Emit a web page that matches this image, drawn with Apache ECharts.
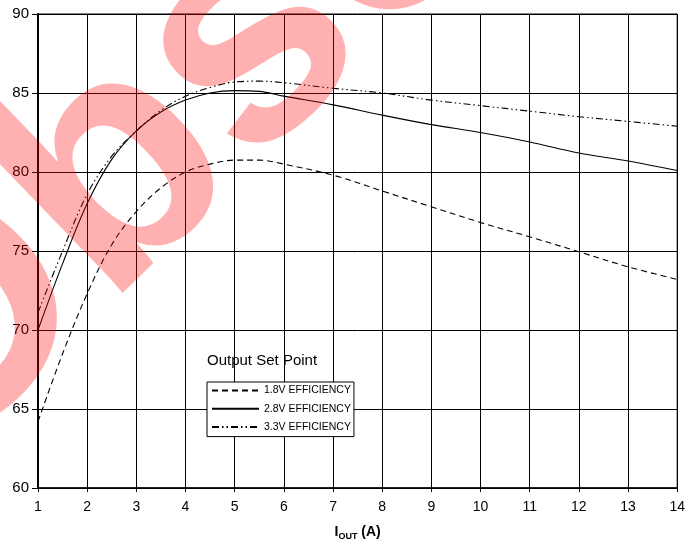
<!DOCTYPE html>
<html>
<head>
<meta charset="utf-8">
<script src="https://cdn.jsdelivr.net/npm/echarts@6/dist/echarts.min.js"></script>
<style>
html,body{margin:0;padding:0;background:#fff;}
#c{width:688px;height:547px;}
</style>
</head>
<body>
<div id="c"></div>
<script>
const iout = [1, 1.5, 2, 2.5, 3, 3.5, 4, 4.5, 5, 5.5, 6, 7, 8, 9, 10, 11, 12, 13, 14];
const eff18 = [64.2, 68.5, 72.3, 75.4, 77.5, 79.0, 80.0, 80.5, 80.75, 80.75, 80.5, 79.8, 78.8, 77.8, 76.8, 75.9, 74.95, 74.0, 73.2];
const eff28 = [70.0, 74.2, 78.0, 80.8, 82.6, 83.8, 84.55, 85.0, 85.15, 85.1, 84.8, 84.25, 83.6, 83.0, 82.5, 81.9, 81.2, 80.7, 80.1];
const eff33 = [71.1, 75.0, 78.6, 81.0, 82.6, 83.9, 84.8, 85.35, 85.7, 85.75, 85.65, 85.3, 85.0, 84.55, 84.2, 83.85, 83.5, 83.2, 82.9];
const seriesNames = ['1.8V EFFICIENCY', '2.8V EFFICIENCY', '3.3V EFFICIENCY'];
const legendTitle = 'Output Set Point';
const watermark = 'Obsolete';

const pair = (ys) => iout.map((x, i) => [x, ys[i]]);
const dashes = [[6, 4], 'solid', [7, 3, 1.5, 3, 1.5, 3]];
const allData = [eff18, eff28, eff33];

const chart = echarts.init(document.getElementById('c'));
chart.setOption({
  animation: false,
  backgroundColor: '#fff',
  grid: { left: 38, right: 4, top: 14, bottom: 59, show: true, borderColor: '#000', borderWidth: 1, backgroundColor: 'transparent' },
  xAxis: {
    type: 'value', min: 1, max: 14, interval: 1,
    axisLine: { lineStyle: { color: '#000', width: 1.5 } },
    axisTick: { show: true, length: 4, lineStyle: { color: '#000' } },
    axisLabel: { color: '#000', fontSize: 14, margin: 12, fontFamily: '"Liberation Sans Narrow", "Liberation Sans", sans-serif' },
    splitLine: { show: true, lineStyle: { color: '#000', width: 1 } },
    name: '{a|I}{b|OUT}{a| (A)}',
    nameLocation: 'middle', nameGap: 36,
    nameTextStyle: {
      rich: {
        a: { fontSize: 14, fontWeight: 'bold', color: '#000', fontFamily: '"Liberation Sans Narrow", "Liberation Sans", sans-serif' },
        b: { fontSize: 9, fontWeight: 'bold', color: '#000', fontFamily: '"Liberation Sans", sans-serif', padding: [8, 0, 0, 0] }
      }
    }
  },
  yAxis: {
    type: 'value', min: 60, max: 90, interval: 5,
    axisLine: { show: true, lineStyle: { color: '#000', width: 2 } },
    axisTick: { show: true, length: 6, lineStyle: { color: '#000' } },
    axisLabel: { color: '#000', fontSize: 15, margin: 9, fontFamily: '"Liberation Sans", sans-serif' },
    splitLine: { show: true, lineStyle: { color: '#000', width: 1 } }
  },
  legend: {
    orient: 'vertical', left: 207, top: 382,
    data: seriesNames,
    itemWidth: 47, itemHeight: 14, itemGap: 7,
    padding: [3, 3, 4, 4],
    itemStyle: { opacity: 0 },
    borderColor: '#000', borderWidth: 1, backgroundColor: '#fff',
    textStyle: { color: '#000', fontSize: 10.5, fontFamily: '"Liberation Sans", sans-serif' }
  },
  graphic: [
    { type: 'text', left: 207, top: 353, z: 50,
      style: { text: legendTitle, font: '15px "Liberation Sans", sans-serif', fill: '#000' } },
    { type: 'text', x: -133, y: 417, rotation: 44 * Math.PI / 180, z: 200, silent: true,
      style: { text: watermark, font: 'bold 320px "Liberation Sans", sans-serif', fill: 'rgba(255,0,0,0.31)', textAlign: 'left', textVerticalAlign: 'middle' } }
  ],
  series: allData.map((d, i) => ({
    name: seriesNames[i], type: 'line', data: pair(d),
    showSymbol: false, symbol: 'none', smooth: 0.35,
    lineStyle: { color: '#000', width: 1.1, type: dashes[i] },
    itemStyle: { color: '#000' },
    z: 3
  }))
});
</script>
</body>
</html>
